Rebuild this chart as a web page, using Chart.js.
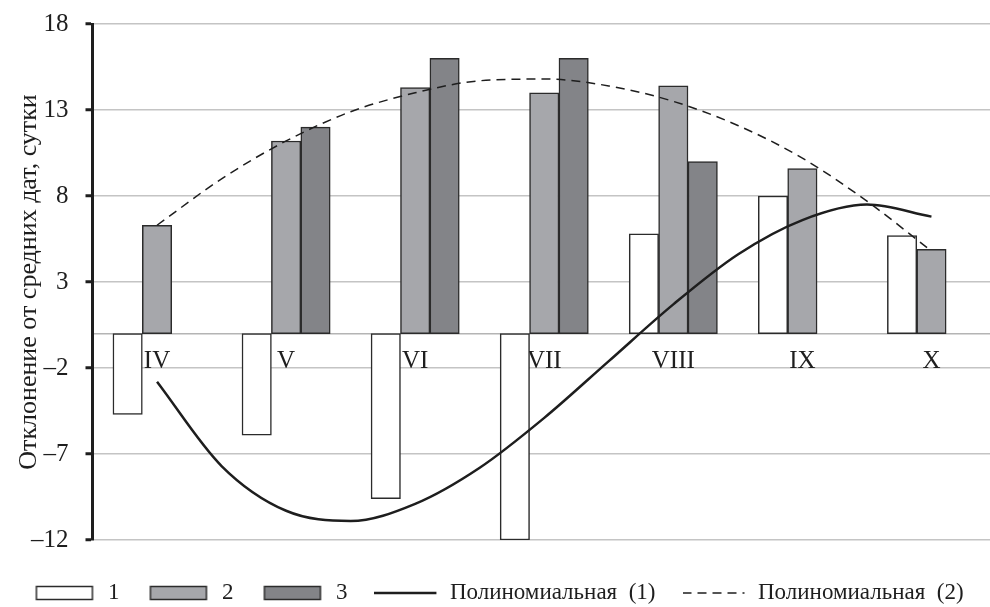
<!DOCTYPE html>
<html lang="ru">
<head>
<meta charset="utf-8">
<title>Отклонение от средних дат</title>
<script src="https://cdn.jsdelivr.net/npm/chart.js@4/dist/chart.umd.min.js"></script>
<style>
  html, body { margin: 0; padding: 0; background: #fff; overflow: hidden; }
  #wrap { position: relative; width: 1000px; height: 607px; }
</style>
</head>
<body>
<div id="wrap"><canvas id="chart"></canvas></div>
<script>
// Months (categories)
const months = ['IV', 'V', 'VI', 'VII', 'VIII', 'IX', 'X'];

// Deviation from mean dates, days
const series1 = [-4.7, -5.9, -9.6, -12.0, 5.8, 8.0, 5.7];
const series2 = [6.3, 11.2, 14.3, 14.0, 14.4, 9.6, 4.9];
const series3 = [null, 12.0, 16.0, 16.0, 10.0, null, null];

// Polynomial trend lines, sampled every half month from IV to X
const trendPos = [0, 0.5, 1, 1.5, 2, 2.5, 3, 3.5, 4, 4.5, 5, 5.5, 6];
const trend1 = [-2.8, -7.7, -10.3, -10.9, -9.9, -7.8, -4.9, -1.6, 1.7, 4.6, 6.6, 7.5, 6.8];
const trend2 = [6.3, 9.0, 11.2, 12.9, 14.0, 14.7, 14.8, 14.4, 13.5, 12.1, 10.2, 7.7, 4.8];

// Value axis ticks
const yTicks = [-12, -7, -2, 3, 8, 13, 18];

const seriesNames = ['1', '2', '3', 'Полиномиальная  (1)', 'Полиномиальная  (2)'];
const axisTitle = 'Отклонение от средних дат, сутки';

const serif = 'Liberation Serif';
const ink = '#1e1e1e';
const barEdge = '#2b2b2b';
const fills = ['#ffffff', '#a6a7ab', '#838488'];
const trendDash = [9, 6];

// Month index -> value pairs, all series share one numeric month axis
const byMonth = (ys) => ys.map((y, i) => ({ x: i, y }));
const toPoints = (xs, ys) => xs.map((x, i) => ({ x, y: ys[i] }));

// Legend markers: framed swatch for bars, plain or dashed stroke for lines
const MARK_W = 64;
function boxMarker(fill) {
  const c = document.createElement('canvas');
  c.width = MARK_W; c.height = 16;
  const g = c.getContext('2d');
  g.fillStyle = fill;
  g.strokeStyle = barEdge;
  g.lineWidth = 1.5;
  g.fillRect(4, 1.5, 56, 13);
  g.strokeRect(4, 1.5, 56, 13);
  return c;
}
function lineMarker(width, dash) {
  const c = document.createElement('canvas');
  c.width = MARK_W; c.height = 6;
  const g = c.getContext('2d');
  g.strokeStyle = ink;
  g.lineWidth = width;
  g.setLineDash(dash);
  g.beginPath();
  g.moveTo(0, 3);
  g.lineTo(62, 3);
  g.stroke();
  return c;
}

const barStyle = (i) => ({
  type: 'bar',
  xAxisID: 'x',
  backgroundColor: fills[i],
  borderColor: barEdge,
  borderWidth: 1.5,
  borderSkipped: false,
  barThickness: 29.4,
  order: 2
});

new Chart(document.getElementById('chart'), {
  type: 'bar',
  data: {
    datasets: [
      { label: seriesNames[0], data: byMonth(series1), ...barStyle(0) },
      { label: seriesNames[1], data: byMonth(series2), ...barStyle(1) },
      { label: seriesNames[2], data: byMonth(series3), ...barStyle(2) },
      {
        type: 'line', label: seriesNames[3], xAxisID: 'x',
        data: toPoints(trendPos, trend1),
        borderColor: ink, borderWidth: 2.5, pointRadius: 0,
        cubicInterpolationMode: 'monotone', fill: false, order: 1
      },
      {
        type: 'line', label: seriesNames[4], xAxisID: 'x',
        data: toPoints(trendPos, trend2),
        borderColor: ink, borderWidth: 1.5, borderDash: trendDash, pointRadius: 0,
        cubicInterpolationMode: 'monotone', fill: false, order: 1
      }
    ]
  },
  options: {
    responsive: true,
    maintainAspectRatio: false,
    animation: false,
    events: [],
    layout: { padding: { top: 24, right: 4, left: 0, bottom: -7.5 } },
    scales: {
      // Month axis: crosses the value axis at zero, month names under the line
      x: {
        type: 'linear',
        position: { y: 0 },
        offset: false,
        min: -0.5,
        max: 6.5,
        afterBuildTicks: (s) => { s.ticks = months.map((_, i) => ({ value: i })); },
        grid: { display: false, drawTicks: false },
        border: { display: true, color: '#b4b4b4', width: 1.5 },
        ticks: {
          color: ink,
          font: { family: serif, size: 25 },
          padding: 13,
          maxRotation: 0,
          autoSkip: false,
          callback: (v, i) => months[i]
        }
      },
      // Spacer between the plot and the legend
      gap: {
        axis: 'x',
        type: 'linear',
        position: 'bottom',
        offset: false,
        grid: { display: false },
        border: { display: false },
        ticks: { display: false },
        afterFit: (s) => { s.height = 14.5; }
      },
      y: {
        min: -12,
        max: 18,
        afterBuildTicks: (s) => { s.ticks = yTicks.map(v => ({ value: v })); },
        grid: {
          color: '#c4c4c4',
          lineWidth: 1.5,
          drawTicks: true,
          tickLength: 7,
          tickColor: ink,
          tickWidth: 3
        },
        border: { display: true, color: ink, width: 3 },
        ticks: {
          color: ink,
          font: { family: serif, size: 25, lineHeight: 0.5 },
          padding: 17,
          autoSkip: false,
          callback: (v) => (v < 0 ? '\u2013' + Math.abs(v) : String(v))
        },
        title: {
          display: true,
          text: axisTitle,
          color: ink,
          font: { family: serif, size: 26 },
          padding: { top: 14, bottom: 0 }
        },
        afterFit: (s) => { s.width = 92.5; }
      }
    },
    plugins: {
      legend: {
        display: true,
        position: 'bottom',
        labels: {
          usePointStyle: true,
          pointStyleWidth: MARK_W,
          boxHeight: 13,
          padding: 27,
          color: ink,
          font: { family: serif, size: 23 },
          generateLabels: (ch) => {
            const markers = [boxMarker(fills[0]), boxMarker(fills[1]), boxMarker(fills[2]),
                             lineMarker(2.5, []), lineMarker(1.5, trendDash)];
            return ch.data.datasets.map((ds, i) => ({
              text: ds.label,
              datasetIndex: i,
              pointStyle: markers[i],
              fontColor: ink,
              hidden: false,
              lineWidth: 0
            }));
          }
        }
      },
      tooltip: { enabled: false }
    }
  }
});
</script>
</body>
</html>
